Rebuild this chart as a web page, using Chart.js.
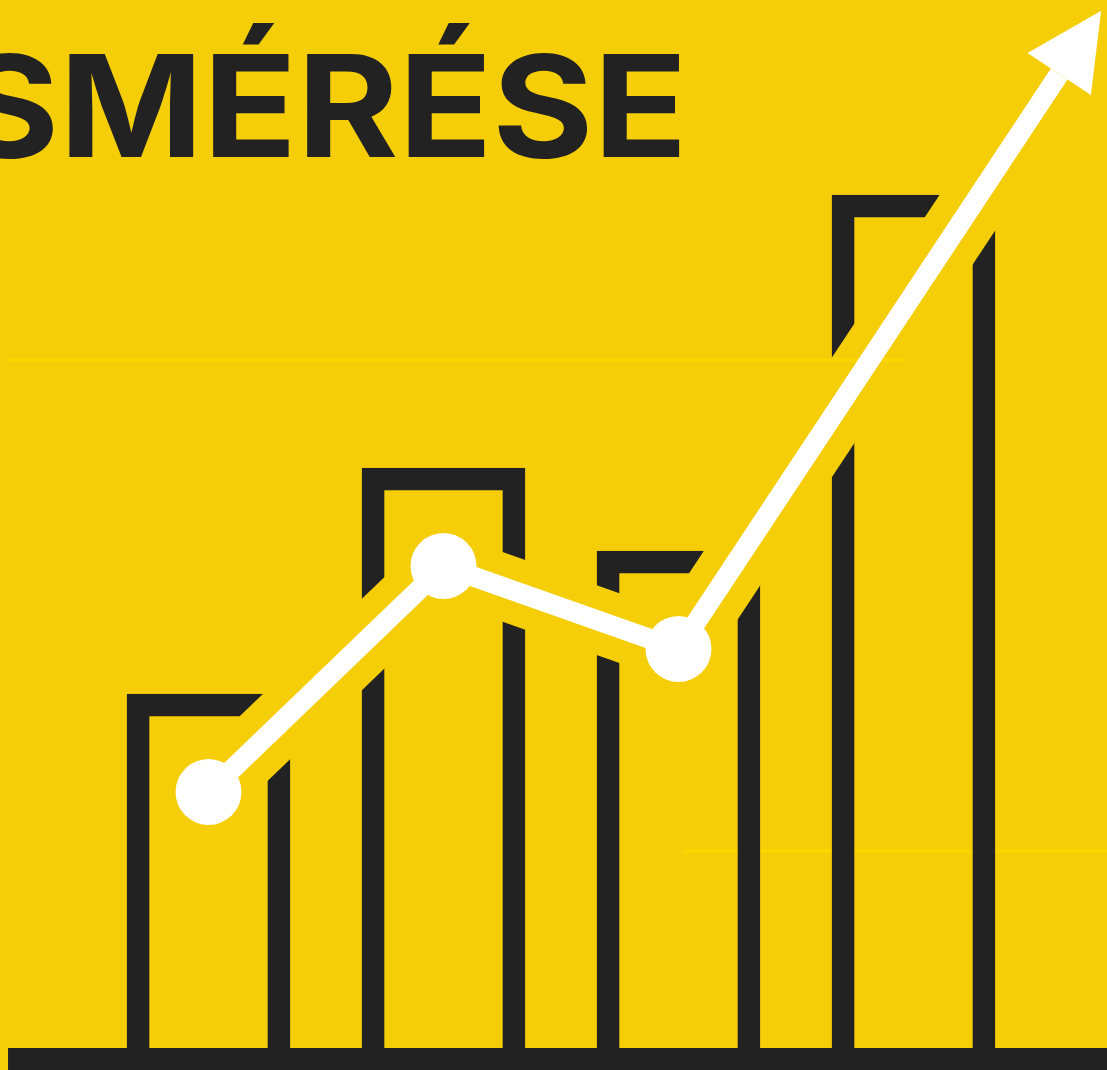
<!DOCTYPE html>
<html>
<head>
<meta charset="utf-8">
<script src="https://cdn.jsdelivr.net/npm/chart.js@4/dist/chart.umd.min.js"></script>
<style>
  html, body { margin: 0; padding: 0; background: #f5ce08; overflow: hidden; }
  #wrap { width: 1107px; height: 1070px; position: relative; }
</style>
</head>
<body>
<div id="wrap"><canvas id="chart"></canvas></div>
<script>
// bar positions (category index) and heights
var barX = [1, 2, 3, 4];
var barHeights = [35.4, 58, 49.7, 85.3];

// trend line, last point is where the arrow shaft ends
var trendX = [1, 2, 3, 4.62];
var trendY = [25.6, 48.2, 39.9, 97.4];

// faint light stripes in the background
var stripeY = [68.8, 19.7];
var stripeFrom = [0.138, 3.02];
var stripeTo = [3.968, 4.83];
var stripeOverBars = [true, false];

var titleText = "SMÉRÉSE";

var YELLOW = "#f5ce08";
var DARK = "#222222";

var barData = barX.map(function (x, i) { return { x: x, y: barHeights[i] }; });
var lineData = trendX.map(function (x, i) { return { x: x, y: trendY[i] }; });

function drawStripes(chart, over) {
  var ctx = chart.ctx, xs = chart.scales.x, ys = chart.scales.y;
  ctx.save();
  ctx.fillStyle = "#fcd500";
  for (var i = 0; i < stripeY.length; i++) {
    if (stripeOverBars[i] !== over) continue;
    var x1 = xs.getPixelForValue(stripeFrom[i]);
    var x2 = xs.getPixelForValue(stripeTo[i]);
    var y = ys.getPixelForValue(stripeY[i]);
    ctx.fillRect(x1, y - 2, x2 - x1, 4);
  }
  ctx.restore();
}

var decor = {
  id: "decor",
  beforeDraw: function (chart) {
    var ctx = chart.ctx;
    ctx.save();
    ctx.fillStyle = YELLOW;
    ctx.fillRect(0, 0, chart.width, chart.height);
    ctx.restore();
  },
  beforeDatasetsDraw: function (chart) {
    var ctx = chart.ctx;
    drawStripes(chart, false);
    ctx.save();
    // title
    ctx.fillStyle = DARK;
    ctx.font = "700 100px Inter";
    var capH = ctx.measureText("E").actualBoundingBoxAscent;
    var size = 100 * 103 / capH;
    ctx.font = "700 " + size + "px Inter";
    var wS = ctx.measureText("S").width;
    var mM = ctx.measureText("M");
    var mAll = ctx.measureText(titleText);
    var inkLeft = wS - mM.actualBoundingBoxLeft;
    var inkRight = mAll.actualBoundingBoxRight;
    var sx = (680 - 69) / (inkRight - inkLeft);
    ctx.translate(69 - inkLeft * sx, 157);
    ctx.scale(sx, 1);
    ctx.textBaseline = "alphabetic";
    ctx.fillText(titleText, 0, 0);
    ctx.restore();
  },
  afterDatasetDraw: function (chart, args) {
    // the upper stripe sits on the yellow gap, under the white line
    if (args.index === 1) drawStripes(chart, true);
  },
  afterDatasetsDraw: function (chart) {
    var ctx = chart.ctx, xs = chart.scales.x, ys = chart.scales.y;
    ctx.save();
    // baseline
    var bx = xs.getPixelForValue(0.147);
    var by = ys.getPixelForValue(0);
    ctx.fillStyle = DARK;
    ctx.fillRect(bx, by, chart.width - bx, chart.height - by);
    // arrow head on the trend line
    var pts = chart.getDatasetMeta(2).data;
    var a = pts[pts.length - 2], b = pts[pts.length - 1];
    var dx = b.x - a.x, dy = b.y - a.y, len = Math.sqrt(dx * dx + dy * dy);
    var ux = dx / len, uy = dy / len;
    var head = 76, half = 38;
    ctx.fillStyle = "#ffffff";
    ctx.beginPath();
    ctx.moveTo(b.x + ux * head, b.y + uy * head);
    ctx.lineTo(b.x - uy * half, b.y + ux * half);
    ctx.lineTo(b.x + uy * half, b.y - ux * half);
    ctx.closePath();
    ctx.fill();
    ctx.restore();
  }
};

new Chart(document.getElementById("chart"), {
  type: "bar",
  data: {
    datasets: [
      {
        type: "bar",
        data: barData,
        backgroundColor: "rgba(0,0,0,0)",
        borderColor: DARK,
        borderWidth: 22,
        borderSkipped: "bottom",
        barThickness: 163,
        order: 3
      },
      {
        type: "line",
        data: lineData,
        borderColor: YELLOW,
        borderWidth: 66,
        borderJoinStyle: "round",
        pointRadius: 0,
        order: 2
      },
      {
        type: "line",
        data: lineData,
        borderColor: "#ffffff",
        borderWidth: 20,
        pointRadius: [33, 33, 33, 0],
        pointBackgroundColor: "#ffffff",
        pointBorderWidth: 0,
        order: 1
      }
    ]
  },
  options: {
    responsive: true,
    maintainAspectRatio: false,
    animation: false,
    layout: { padding: 0, autoPadding: false },
    plugins: { legend: { display: false }, tooltip: { enabled: false }, title: { display: false } },
    scales: {
      x: { type: "linear", min: 0.11277, max: 4.8234, offset: false, display: false },
      y: { min: -2.2, max: 104.8, display: false }
    }
  },
  plugins: [decor]
});
</script>
</body>
</html>
